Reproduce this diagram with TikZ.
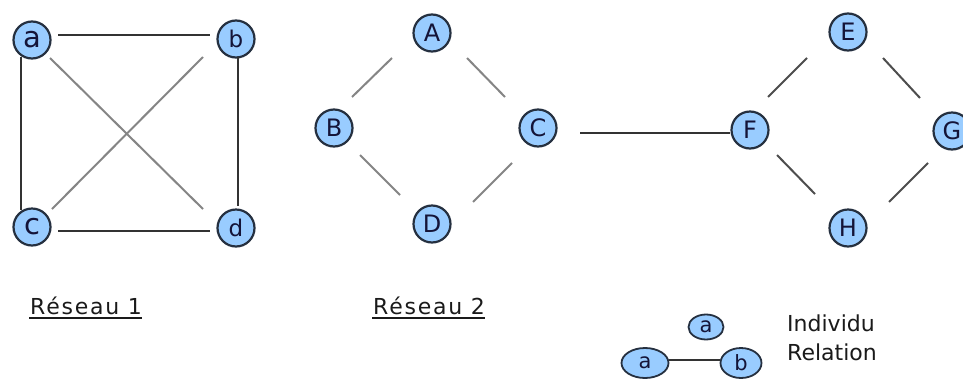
\documentclass[tikz,border=0pt]{standalone}
\usepackage{fontspec}
\setmainfont{DejaVu Sans}
\newfontfamily\resfont[LetterSpace=8]{DejaVu Sans}
\usetikzlibrary{calc,shapes.geometric}
\definecolor{nodefill}{HTML}{99CCFF}
\definecolor{nodeline}{HTML}{253040}
\definecolor{nodetext}{HTML}{141438}
\definecolor{darkedge}{HTML}{333333}
\definecolor{grayedge}{HTML}{858585}
\definecolor{midedge}{HTML}{4D4D4D}
\definecolor{labeltext}{HTML}{1A1A1A}
\tikzset{
  vertex/.style={circle, draw=nodeline, fill=nodefill, line width=2.2pt, minimum size=37pt, inner sep=0pt, text=nodetext, font=\fontsize{24}{24}\selectfont},
  tallglyph/.style={font=\fontsize{29}{29}\selectfont},
  ascglyph/.style={font=\fontsize{23}{23}\selectfont},
  legendnode/.style={ellipse, draw=nodeline, fill=nodefill, line width=1.8pt, inner sep=0pt, text=nodetext, font=\fontsize{21}{21}\selectfont},
  darkline/.style={draw=darkedge, line width=2.2pt},
  grayline/.style={draw=grayedge, line width=2pt},
  midline/.style={draw=midedge, line width=2pt},
  lbl/.style={inner sep=0pt, anchor=base west, text=labeltext, font=\fontsize{22}{22}\selectfont},
  reslbl/.style={lbl, font=\fontsize{22}{22}\selectfont\resfont},
  uline/.style={draw=labeltext, line width=1.8pt}
}
\begin{document}
\begin{tikzpicture}[x=1pt,y=-1pt]
\useasboundingbox[fill=white] (0,0) rectangle (963,378);

% ---------- Reseau 1 ----------
\node[vertex,tallglyph] (a) at (32,40) {a};
\node[vertex,ascglyph] (b) at (236,39) {b};
\node[vertex,tallglyph] (c) at (32,227) {c};
\node[vertex,ascglyph] (d) at (236,228) {d};

\draw[darkline] ($(a)+(26,-5)$) -- ($(b)+(-26,-4)$);
\draw[darkline] ($(a)+(-11,17)$) -- ($(c)+(-11,-17)$);
\draw[darkline] ($(b)+(2,18)$) -- ($(d)+(2,-22)$);
\draw[darkline] ($(c)+(26,4)$) -- ($(d)+(-26,3)$);
\draw[grayline] ($(a)+(18,18)$) -- ($(d)+(-33,-19)$);
\draw[grayline] ($(c)+(20,-18)$) -- ($(b)+(-33,18)$);

% ---------- Reseau 2 ----------
\node[vertex] (A) at (432,33) {A};
\node[vertex] (B) at (334,128) {B};
\node[vertex] (C) at (538,128) {C};
\node[vertex] (D) at (432,224) {D};
\node[vertex] (E) at (848,32) {E};
\node[vertex] (F) at (750,130) {F};
\node[vertex] (G) at (952,131) {G};
\node[vertex] (H) at (848,228) {H};

\draw[grayline] ($(A)+(-40,25)$) -- ($(B)+(18,-31)$);
\draw[grayline] ($(A)+(35,25)$) -- ($(C)+(-33,-31)$);
\draw[grayline] ($(B)+(26,27)$) -- ($(D)+(-32,-29)$);
\draw[grayline] ($(C)+(-26,35)$) -- ($(D)+(41,-22)$);
\draw[darkline] ($(C)+(42,5)$) -- ($(F)+(-20,3)$);
\draw[midline] ($(F)+(18,-33)$) -- ($(E)+(-41,26)$);
\draw[midline] ($(E)+(35,26)$) -- ($(G)+(-32,-33)$);
\draw[midline] ($(F)+(27,25)$) -- ($(H)+(-33,-34)$);
\draw[midline] ($(H)+(41,-26)$) -- ($(G)+(-24,32)$);

% ---------- labels ----------
\node[reslbl] (r1) at (30,314) {Réseau 1};
\draw[uline] ($(r1.base west)+(-1,4)$) -- ($(r1.base east)+(0,4)$);
\node[reslbl] (r2) at (373,314) {Réseau 2};
\draw[uline] ($(r2.base west)+(-1,4)$) -- ($(r2.base east)+(0,4)$);

% ---------- legend ----------
\node[legendnode, minimum width=35pt, minimum height=25pt] (la) at (706,327) {a};
\node[legendnode, minimum width=47pt, minimum height=30pt] (lb1) at (645,363) {a};
\node[legendnode, minimum width=41pt, minimum height=30pt] (lb2) at (741,363) {b};
\draw[darkline, line width=1.8pt] ($(lb1.east)+(0,-3)$) -- ($(lb2.west)+(0,-3)$);

\node[lbl] (ind) at (787,331) {Individu};
\node[lbl] (rel) at (787,360) {Relation};
\end{tikzpicture}
\end{document}
